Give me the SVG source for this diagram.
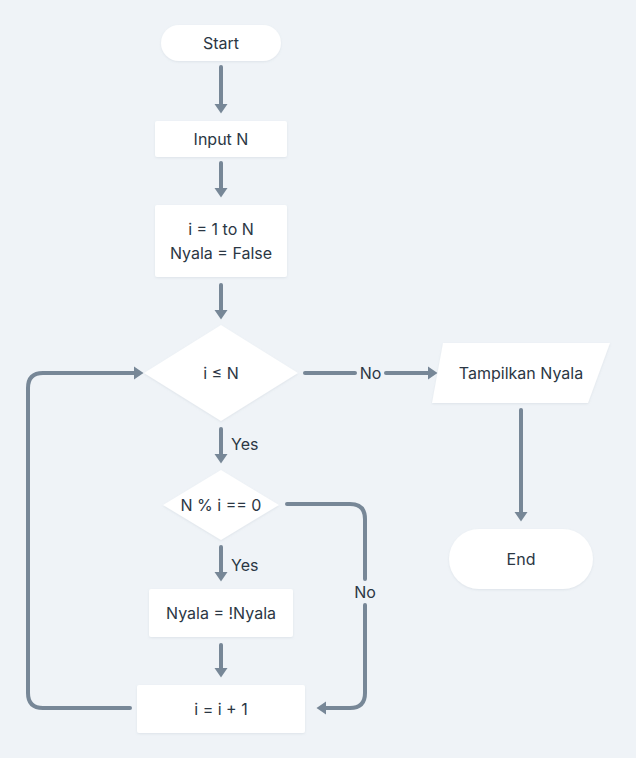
<svg xmlns="http://www.w3.org/2000/svg" width="636" height="758" viewBox="0 0 636 758">
<style>
.node{fill:#ffffff;filter:url(#sh)}
.t{font-family:Inter,"Noto Sans",sans-serif;font-size:16px;fill:#2b3744;text-anchor:middle;dominant-baseline:central}
.c{fill:none;stroke:#778797;stroke-width:4;stroke-linecap:round;stroke-linejoin:round}
.lbl{font-family:Inter,"Noto Sans",sans-serif;font-size:16px;fill:#2b3744;dominant-baseline:central}
</style>
<defs>
<filter id="sh" x="-10%" y="-10%" width="120%" height="130%">
<feDropShadow dx="0" dy="1" stdDeviation="1.2" flood-color="#8a9aaa" flood-opacity="0.18"/>
</filter>
<marker id="ah" markerUnits="userSpaceOnUse" markerWidth="10" markerHeight="14" refX="0" refY="7" orient="auto" viewBox="0 0 10 14">
<path d="M0,0.5 L9.5,7 L0,13.5 z" fill="#778797"/>
</marker>
</defs>
<rect width="636" height="758" fill="#eff3f7"/>
<g id="connectors">
<path class="c" d="M221,67 V104" marker-end="url(#ah)"/>
<path class="c" d="M221,163 V188" marker-end="url(#ah)"/>
<path class="c" d="M221,285 V310" marker-end="url(#ah)"/>
<path class="c" d="M305,373 H355"/>
<path class="c" d="M386,373 H428" marker-end="url(#ah)"/>
<text class="lbl" x="370.5" y="373" text-anchor="middle">No</text>
<path class="c" d="M221,429 V454" marker-end="url(#ah)"/>
<text class="lbl" x="231" y="444">Yes</text>
<path class="c" d="M221,547 V572" marker-end="url(#ah)"/>
<text class="lbl" x="231" y="565">Yes</text>
<path class="c" d="M221,645 V668" marker-end="url(#ah)"/>
<path class="c" d="M287,504 H350 Q365,504 365,519 V579"/>
<path class="c" d="M365,605 V693 Q365,708 350,708 H326" marker-end="url(#ah)"/>
<text class="lbl" x="365" y="592" text-anchor="middle">No</text>
<path class="c" d="M130,708 H43 Q28,708 28,693 V388 Q28,373 43,373 H134" marker-end="url(#ah)"/>
<path class="c" d="M521,410 V512" marker-end="url(#ah)"/>
</g>
<g id="start"><rect class="node" x="161" y="25" width="120" height="36" rx="18"/><text class="t" x="221" y="43">Start</text></g>
<g id="input"><rect class="node" x="155" y="121" width="132" height="36" rx="2"/><text class="t" x="221" y="139">Input N</text></g>
<g id="init"><rect class="node" x="155" y="205" width="132" height="72" rx="2"/><text class="t" x="221" y="229">i = 1 to N</text><text class="t" x="221" y="253">Nyala = False</text></g>
<g id="cond1"><polygon class="node" points="221,325 298,373 221,421 144,373"/><text class="t" x="221" y="373">i ≤ N</text></g>
<g id="output"><polygon class="node" points="443,343 610,343 588,403 432,403"/><text class="t" x="521" y="373">Tampilkan Nyala</text></g>
<g id="end"><rect class="node" x="449" y="529" width="144" height="60" rx="30"/><text class="t" x="521" y="559">End</text></g>
<g id="cond2"><polygon class="node" points="221,470 279,505 221,540 163,505"/><text class="t" x="221" y="505">N % i == 0</text></g>
<g id="toggle"><rect class="node" x="149" y="589" width="144" height="48" rx="2"/><text class="t" x="221" y="613">Nyala = !Nyala</text></g>
<g id="incr"><rect class="node" x="137" y="685" width="168" height="48" rx="2"/><text class="t" x="221" y="709">i = i + 1</text></g>
</svg>
